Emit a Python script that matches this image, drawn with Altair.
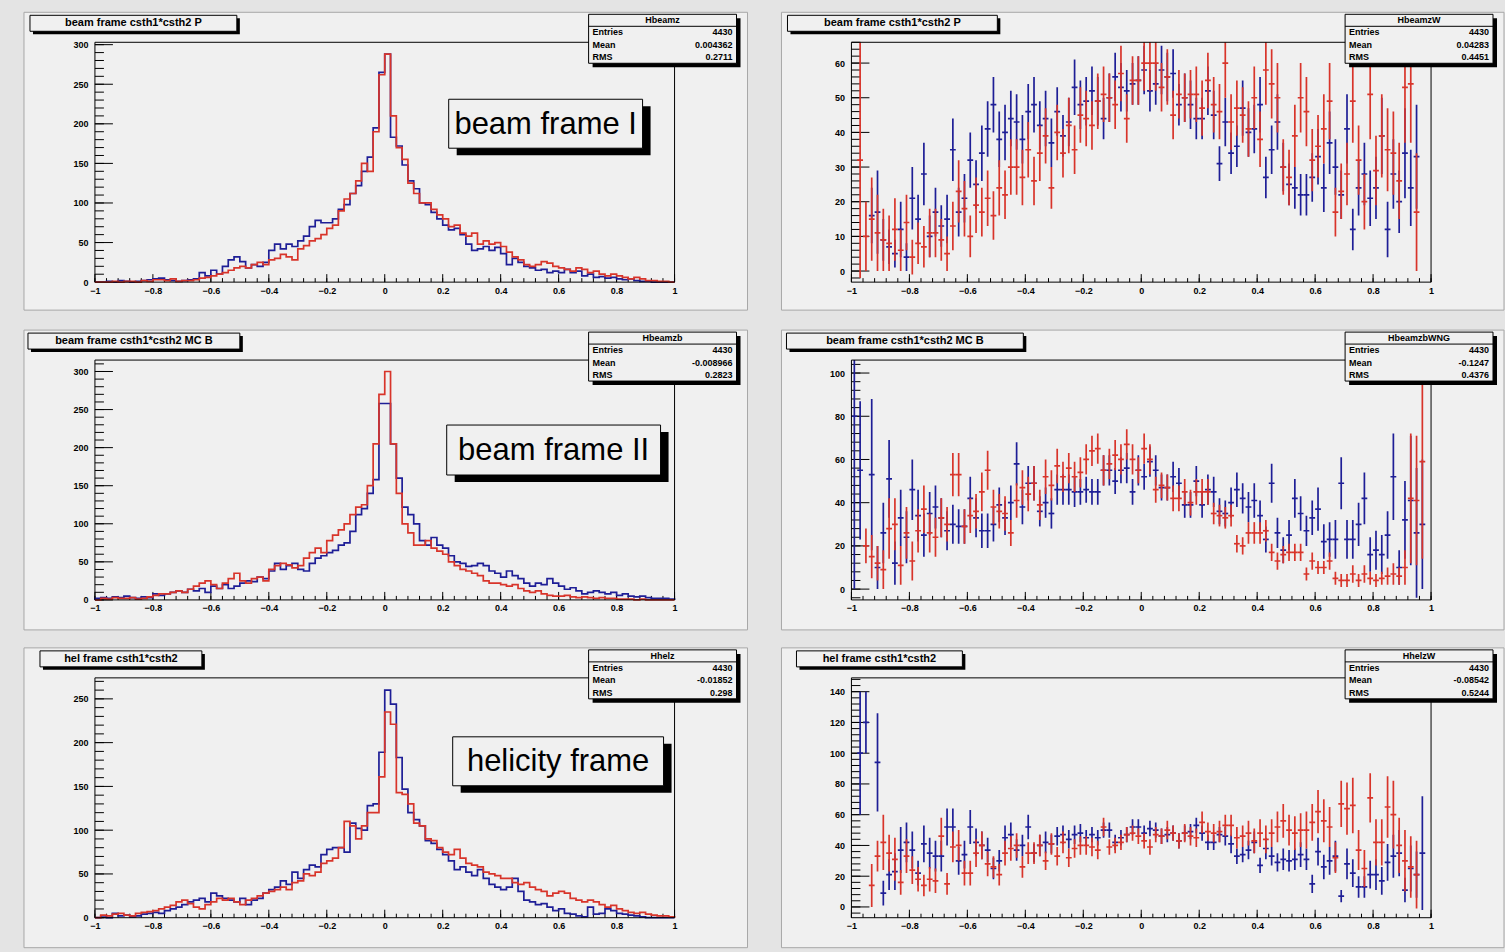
import math
import altair as alt
import pandas as pd

# ---------------- data ----------------
N_BINS = 100
X_DOMAIN = [-1.0, 1.0]

# top-left: beam frame I (histograms)
TL_BLUE = [0,0,1,0,2,1,0,1,2,3, 4,5,3,2,1,2,3,4,12,8, 15,10,20,28,32,26,18,22,20,25,
           40,48,42,48,45,52,58,70,78,75, 75,80,92,98,112,122,140,158,195,265,
           288,183,172,148,128,118,100,98,88,80, 72,66,68,60,48,40,42,45,40,44,
           36,22,30,25,20,18,15,16,12,14, 12,16,12,14,8,10,6,7,5,6, 4,3,4,2,1,1,0,0,0,0]
TL_RED = [0,0,0,1,0,1,1,0,2,1, 3,3,2,4,1,2,2,3,5,6, 8,10,12,15,18,20,18,22,25,22,
          28,30,35,32,28,42,46,52,55,60, 68,72,90,105,112,128,150,140,190,262,
          288,210,170,155,125,112,100,100,92,85, 80,70,72,62,58,62,48,52,48,50,
          45,38,32,28,22,20,22,26,24,20, 18,16,14,18,16,12,14,10,8,10, 8,6,4,6,4,2,2,1,1,0]

# middle-left: beam frame II
ML_BLUE = [2,3,2,4,3,5,3,2,4,3, 8,6,8,10,12,10,14,12,15,10, 18,15,20,15,18,22,25,24,30,28,
           38,48,40,45,48,40,38,48,55,58, 62,65,72,75,90,112,120,140,158,258,
           258,205,160,122,112,100,78,72,82,72, 68,58,50,48,44,45,48,45,38,35,
           30,38,32,28,22,18,22,20,28,22, 18,14,16,12,8,10,12,10,8,10, 6,8,5,4,5,3,2,2,2,1]
ML_RED = [0,2,1,3,2,2,3,1,2,4, 6,8,8,10,12,10,14,18,22,25, 20,15,22,28,35,25,22,28,30,25,
          40,45,48,46,42,45,55,62,68,62, 78,85,92,100,112,122,125,150,205,270,
          300,205,140,100,88,72,72,78,68,64, 60,50,45,40,38,35,32,25,22,22,
          20,18,20,15,12,10,12,8,6,5, 5,6,4,3,4,3,2,3,2,2, 1,1,1,0,1,0,0,0,0,0]

# bottom-left: helicity frame
BL_BLUE = [0,2,0,5,2,3,1,2,4,5, 6,5,8,10,12,15,18,20,22,18, 28,25,22,20,18,22,15,20,22,28,
           32,35,42,38,52,45,55,60,58,72, 78,80,80,75,108,102,100,128,130,189,
           260,244,183,147,120,112,105,88,85,78, 72,65,55,58,52,48,55,45,38,35,
           32,35,45,30,20,18,15,16,12,8, 10,5,4,2,1,12,4,5,10,8, 5,4,3,2,1,0,0,0,0,0]
BL_RED = [0,3,2,4,5,3,2,5,6,7, 8,10,12,14,18,20,16,12,10,15, 18,22,20,22,18,15,20,22,25,28,
          30,32,35,32,40,42,50,48,52,62, 65,68,80,110,105,90,105,120,120,161,
          235,221,143,141,130,108,105,90,88,80, 75,72,78,68,62,60,58,52,50,48,
          45,45,40,38,40,35,32,30,25,28, 30,28,22,20,18,20,18,15,12,14, 10,8,6,5,6,4,3,2,2,1]

# top-right: weighted, with errors
TR_RED = [None,32,10,15,11,9,8,12,6,14, 4,8,7,11,11,9,5,13,23,18, 10,19,17,21,16,24,22,30,30,27,
          35,26,34,39,24,40,34,42,35,45, 44,42,49,51,50,48,57,44,55,55,
          60,60,60,53,56,45,51,50,51,51, 47,55,48,46,60,43,47,45,41,50,
          38,58,54,50,30,27,39,50,46,32, 36,41,49,17,23,28,49,32,20,51,
          29,39,35,34,26,53,54,17,None,None]
TR_RED_ERR = [None,34,10,12,11,9,8,9,6,8, 5,6,6,7,7,6,5,7,9,8, 6,8,7,8,7,8,7,8,8,8,
              8,7,8,8,6,8,7,8,7,8, 8,7,8,8,7,7,8,7,7,7, 8,8,8,7,8,7,7,7,7,8,
              8,8,8,8,10,8,8,8,8,9, 8,10,10,10,8,8,9,10,10,9, 9,10,11,7,8,9,12,10,8,13,
              10,12,12,12,11,16,17,17,None,None]
TR_BLUE = [None,None,None,16,17,9,7,5,12,4, 21,15,28,10,17,13,15,35,17,21, 32,25,34,41,48,38,40,44,43,38,
           46,48,42,44,37,46,39,43,53,48, 49,52,49,44,50,56,53,52,54,55,
           58,52,54,58,56,57,48,50,48,44, 44,52,45,31,43,34,36,47,40,41,
           48,27,35,43,30,25,24,22,22,27, 33,24,37,30,22,41,12,24,28,21,
           24,39,12,28,20,34,24,33,None,None]
TR_BLUE_ERR = [None,None,None,8,12,6,5,4,8,4, 9,7,9,6,7,6,7,9,7,7, 8,7,8,8,8,8,8,8,8,7,
               8,8,7,8,7,7,6,7,8,7, 7,7,7,6,7,7,7,6,6,7, 7,6,6,7,7,7,6,7,7,6,
               6,7,7,5,7,6,6,8,7,7, 8,6,7,8,7,6,6,6,6,7, 8,7,9,8,7,10,6,8,9,8,
               9,11,8,10,9,13,11,15,None,None]

# middle-right
MR_BLUE = [80,55,None,53,10,26,51,12,33,24, 46,34,25,35,38,33,27,30,29,29, 42,33,27,27,30,39,33,40,58,38,
           49,49,36,40,35,46,46,46,45,45, 46,45,45,55,55,50,55,56,45,55,
           52,59,55,47,47,52,49,39,39,50, 39,46,45,36,35,40,46,42,38,41,
           34,23,49,26,18,25,42,35,27,33, 37,22,23,23,49,23,23,30,42,16,
           18,16,25,52,10,32,41,26,30,None]
MR_BLUE_ERR = [80,32,None,35,10,14,18,10,13,12, 14,12,10,10,10,9,9,9,8,8, 10,9,8,8,8,8,8,8,10,8,
               8,8,7,7,7,7,7,7,7,6, 6,6,6,7,7,6,6,7,6,7, 6,7,7,6,6,7,7,6,6,7,
               6,7,7,6,6,7,8,7,7,8, 7,6,9,7,6,7,9,8,7,8, 10,8,8,9,12,9,9,10,12,8,
               9,9,11,20,8,18,30,30,30,None]
MR_RED = [None,None,20,15,12,9,28,30,11,26, 13,27,37,26,24,33,30,53,53,29, 34,36,45,55,38,36,35,26,41,47,
          44,49,39,52,48,57,52,56,52,54, 60,64,65,55,58,62,60,67,60,55,
          65,60,46,48,47,42,42,45,40,45, 45,45,35,34,33,34,21,20,26,26,
          26,27,17,13,16,17,17,17,7,13, 10,10,13,5,4,4,7,4,7,5,
          4,5,6,7,6,10,42,41,59,None]
MR_RED_ERR = [None,None,8,10,8,9,14,12,9,12, 9,10,11,9,9,9,8,10,10,8, 8,8,9,9,8,8,8,6,8,8,
              8,8,7,8,7,8,7,7,7,7, 7,7,7,7,7,7,7,7,7,6, 7,7,6,6,6,6,6,6,6,6,
              6,6,5,5,5,5,4,4,5,5, 5,5,4,4,4,4,4,4,3,4, 3,3,4,3,3,3,4,3,4,3,
              3,3,4,5,4,8,30,30,45,None]

# bottom-right
BR_BLUE = [None,100,120,None,94,9,21,23,37,42, 37,22,41,35,33,33,52,52,30,34, 52,42,40,37,25,30,45,47,37,40,
           52,35,40,42,41,46,47,44,47,48, 45,47,45,50,50,42,45,47,52,52,
           48,51,50,46,47,48,43,48,49,53, 48,42,42,47,46,41,33,34,37,42,
           27,38,33,29,31,30,31,34,31,15, 36,26,30,33,7,28,22,13,13,21,
           21,17,29,33,35,11,25,21,35,None]
BR_BLUE_ERR = [None,40,20,None,32,8,10,12,15,13, 12,8,12,10,10,10,12,12,9,9, 11,9,9,8,7,7,8,8,7,7,
               8,6,7,7,6,6,6,6,6,6, 5,5,5,5,5,5,5,5,5,5, 5,5,5,5,5,5,5,5,5,5,
               5,5,5,5,6,6,5,5,6,7, 5,7,6,6,7,7,7,8,7,6, 9,8,9,10,4,10,9,7,7,9,
               10,9,12,14,15,8,15,15,37,None]
BR_RED = [None,None,None,14,33,42,35,31,16,33, 24,18,14,18,17,46,15,39,40,22, 22,35,40,28,26,21,35,38,40,26,
          35,35,40,30,41,33,42,32,38,40, 40,39,37,52,39,40,42,47,48,46,
          43,39,47,46,50,48,43,48,46,45, 55,49,48,49,53,53,45,46,48,43,
          48,44,48,52,56,50,48,50,50,55, 62,56,52,32,67,64,66,37,25,71,
          42,42,65,60,40,30,26,21,None,None]
BR_RED_ERR = [None,None,None,14,10,18,12,14,8,11, 9,8,7,8,8,12,7,10,10,8, 8,9,9,8,7,7,8,8,8,7,
              7,7,7,6,7,6,7,6,6,6, 6,6,6,6,5,5,5,5,5,5, 5,5,5,5,6,5,5,6,6,6,
              7,6,6,7,7,7,7,7,8,8, 9,9,9,10,11,10,11,11,12,12, 14,14,13,10,15,17,18,13,12,16,
              15,15,20,22,18,20,20,22,None,None]

TITLES = ["beam frame csth1*csth2  P", "beam frame csth1*csth2 P",
          "beam frame csth1*csth2 MC B", "beam frame csth1*csth2 MC B",
          "hel frame csth1*csth2", "hel frame csth1*csth2"]
STAT_NAMES = ["Hbeamz", "HbeamzW", "Hbeamzb", "HbeamzbWNG", "Hhelz", "HhelzW"]
STAT_ENTRIES = ["4430", "4430", "4430", "4430", "4430", "4430"]
STAT_MEAN = ["0.004362", "0.04283", "-0.008966", "-0.1247", "-0.01852", "-0.08542"]
STAT_RMS = ["0.2711", "0.4451", "0.2823", "0.4376", "0.298", "0.5244"]
BIG_LABELS = ["beam frame I", "beam frame II", "helicity frame"]

# ---------------- style ----------------
W, H = 580, 240
BLUE = "#1e1e96"
RED = "#d8342a"
PAD_FILL = "#f0f0f0"
PAD_STROKE = "#a8a8a8"
CANVAS = "#e4e4e4"
FONT = "Liberation Sans"
ONE = pd.DataFrame({"a": [0]})


def bin_edges():
    w = (X_DOMAIN[1] - X_DOMAIN[0]) / N_BINS
    return [round(X_DOMAIN[0] + w * i, 6) for i in range(N_BINS + 1)]


def hist_frame(counts):
    e = bin_edges()
    rows = [{"k": 0, "x": e[0], "y": 0}]
    for i, c in enumerate(counts):
        rows.append({"k": i + 1, "x": e[i], "y": c})
    rows.append({"k": N_BINS + 1, "x": e[-1], "y": counts[-1]})
    rows.append({"k": N_BINS + 2, "x": e[-1], "y": 0})
    return pd.DataFrame(rows)


def err_frame(vals, errs):
    e = bin_edges()
    rows = []
    for i, (v, s) in enumerate(zip(vals, errs)):
        if v is None:
            continue
        rows.append({"c": (e[i] + e[i + 1]) / 2, "l": e[i], "r": e[i + 1],
                     "v": v, "lo": v - s, "hi": v + s})
    return pd.DataFrame(rows)


def tick_vals(lo, hi, step):
    a = math.ceil(lo / step - 1e-9)
    b = math.floor(hi / step + 1e-9)
    return [round(k * step, 6) for k in range(a, b + 1)]


def rect(x1, x2, y1, y2, **kw):
    return alt.Chart(ONE).mark_rect(**kw).encode(
        x=alt.value(x1), x2=alt.value(x2), y=alt.value(y1), y2=alt.value(y2))


def label(x, y, s, **kw):
    return alt.Chart(ONE).mark_text(text=s, font=FONT, color="black", baseline="middle", **kw).encode(
        x=alt.value(x), y=alt.value(y))


def hline(x1, x2, y):
    return alt.Chart(ONE).mark_rule(color="black", strokeWidth=1).encode(
        x=alt.value(x1), x2=alt.value(x2), y=alt.value(y))


def panel(idx, ydom, ymaj, ymin, tbox, blue, red, blue_err=None, red_err=None,
          big=None, canvas=False, pad_x=(-71, 653), pad_y=(-30, 270)):
    xs = alt.Scale(domain=X_DOMAIN, nice=False, zero=False)
    ys = alt.Scale(domain=ydom, nice=False, zero=False)
    L = []
    if canvas:
        L.append(rect(-95, 1410, -42, 910, fill=CANVAS))
    L.append(rect(pad_x[0], pad_x[1], pad_y[0], pad_y[1], fill=PAD_FILL, stroke=PAD_STROKE, strokeWidth=1))

    # axes (labels) + inside ticks
    xmaj = tick_vals(X_DOMAIN[0], X_DOMAIN[1], 0.2)
    xmin = tick_vals(X_DOMAIN[0], X_DOMAIN[1], 0.04)
    ymajv = tick_vals(ydom[0], ydom[1], ymaj)
    yminv = tick_vals(ydom[0], ydom[1], ymin)
    ax_common = dict(tickSize=0, domain=False, grid=False, labelFont=FONT, labelFontSize=9,
                     labelFontWeight="bold", labelColor="black", zindex=1, format="~r",
                     labelOverlap=False, tickCount=100)
    L.append(alt.Chart(pd.DataFrame({"v": xmin})).mark_rule(color="black", strokeWidth=1).encode(
        x=alt.X("v:Q", scale=xs, title=None,
                axis=alt.Axis(values=xmaj, labelPadding=4, labelFlush=False, **ax_common)),
        y=alt.value(H), y2=alt.value(H - 4)))
    L.append(alt.Chart(pd.DataFrame({"v": xmaj})).mark_rule(color="black", strokeWidth=1).encode(
        x=alt.X("v:Q", scale=xs, title=None), y=alt.value(H), y2=alt.value(H - 8)))
    L.append(alt.Chart(pd.DataFrame({"v": yminv})).mark_rule(color="black", strokeWidth=1).encode(
        y=alt.Y("v:Q", scale=ys, title=None,
                axis=alt.Axis(values=ymajv, labelPadding=7, labelFlush=False, **ax_common)),
        x=alt.value(0), x2=alt.value(9)))
    L.append(alt.Chart(pd.DataFrame({"v": ymajv})).mark_rule(color="black", strokeWidth=1).encode(
        y=alt.Y("v:Q", scale=ys, title=None), x=alt.value(0), x2=alt.value(18)))

    # data
    if blue_err is None:
        for counts, col in ((blue, BLUE), (red, RED)):
            L.append(alt.Chart(hist_frame(counts)).mark_line(
                interpolate="step-after", color=col, strokeWidth=1.7).encode(
                x=alt.X("x:Q", scale=xs, title=None), y=alt.Y("y:Q", scale=ys, title=None),
                order=alt.Order("k:Q")))
    else:
        for vals, errs, col in ((blue, blue_err, BLUE), (red, red_err, RED)):
            df = err_frame(vals, errs)
            L.append(alt.Chart(df).mark_rule(color=col, strokeWidth=1.7, clip=True).encode(
                x=alt.X("c:Q", scale=xs, title=None), y=alt.Y("lo:Q", scale=ys, title=None), y2="hi:Q"))
            L.append(alt.Chart(df).mark_rule(color=col, strokeWidth=1.7, clip=True).encode(
                x=alt.X("l:Q", scale=xs, title=None), x2="r:Q", y=alt.Y("v:Q", scale=ys, title=None)))

    # frame
    L.append(rect(0, W, 0, H, fillOpacity=0, stroke="black", strokeWidth=1))

    # title box
    tx1, tx2 = tbox
    L.append(rect(tx1 + 3, tx2 + 3, -24, -8, fill="black"))
    L.append(rect(tx1, tx2, -27, -11, fill=PAD_FILL, stroke="black", strokeWidth=1))
    L.append(label((tx1 + tx2) / 2, -19, TITLES[idx], fontSize=11, fontWeight="bold", align="center"))

    # stats box
    L.append(rect(498, 646, -24, 25, fill="black"))
    L.append(rect(494, 642, -28, 21, fill=PAD_FILL, stroke="black", strokeWidth=1))
    L.append(hline(494, 642, -16))
    L.append(label(568, -22, STAT_NAMES[idx], fontSize=9, fontWeight="bold", align="center"))
    for yy, name, val in ((-10, "Entries", STAT_ENTRIES[idx]), (2.5, "Mean", STAT_MEAN[idx]),
                          (15, "RMS", STAT_RMS[idx])):
        L.append(label(498, yy, name, fontSize=9, fontWeight="bold", align="left"))
        L.append(label(638, yy, val, fontSize=9, fontWeight="bold", align="right"))

    # big label
    if big is not None:
        bx1, bx2, by1, by2, s = big
        L.append(rect(bx1 + 8, bx2 + 8, by1 + 7, by2 + 7, fill="black"))
        L.append(rect(bx1, bx2, by1, by2, fill=PAD_FILL, stroke="black", strokeWidth=1))
        L.append(label((bx1 + bx2) / 2, (by1 + by2) / 2 + 1, s, fontSize=31, align="center"))

    return alt.layer(*L).properties(width=W, height=H)


TL = panel(0, [0, 303], 50, 10, (-65, 142), TL_BLUE, TL_RED,
           big=(354, 548, 57, 106, BIG_LABELS[0]), canvas=True, pad_y=(-30, 268))
TR = panel(1, [-3.2, 66], 10, 2, (-64, 146), TR_BLUE, TR_RED, TR_BLUE_ERR, TR_RED_ERR,
           pad_x=(-70, 653), pad_y=(-30, 268))
ML = panel(2, [0, 315], 50, 10, (-67, 145), ML_BLUE, ML_RED,
           big=(352, 566, 65, 115, BIG_LABELS[1]))
MR = panel(3, [-5, 106], 20, 4, (-65, 172), MR_BLUE, MR_RED, MR_BLUE_ERR, MR_RED_ERR,
           pad_x=(-70, 653))
BL = panel(4, [0, 274], 50, 10, (-55, 107), BL_BLUE, BL_RED,
           big=(358, 569, 59, 108, BIG_LABELS[2]))
BR = panel(5, [-7, 149], 20, 4, (-55, 111), BR_BLUE, BR_RED, BR_BLUE_ERR, BR_RED_ERR,
           pad_x=(-70, 653))

chart = alt.concat(TL, TR, ML, MR, BL, BR, columns=2,
                   spacing=alt.RowColnumber(row=78, column=177), bounds="flush").properties(
    padding=0, background=CANVAS).configure_view(strokeWidth=0)

chart.save("out.html", embed_options={"renderer": "svg", "actions": False})
